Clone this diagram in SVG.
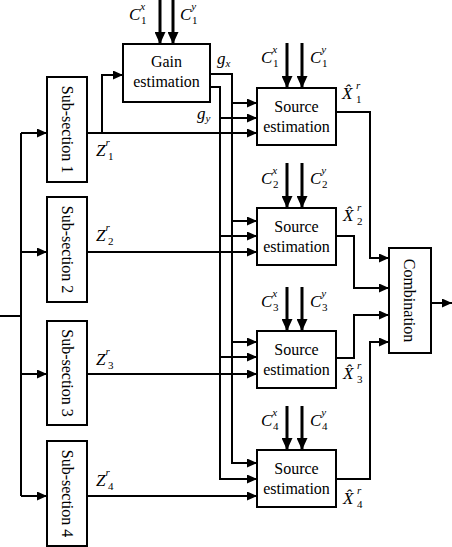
<svg xmlns="http://www.w3.org/2000/svg" width="452" height="547" viewBox="0 0 452 547">
<defs>
<marker id="ah" markerUnits="userSpaceOnUse" markerWidth="11" markerHeight="9" refX="10" refY="4.5" orient="auto"><path d="M0,0 L10,4.5 L0,9 z" fill="#000"/></marker>
<marker id="ch" markerUnits="userSpaceOnUse" markerWidth="12" markerHeight="11" refX="12" refY="5.5" orient="auto"><path d="M0,0 L12,5.5 L0,11 z" fill="#000"/></marker>
</defs>
<style>
.ln{fill:none;stroke:#000;stroke-width:2}
.ar{marker-end:url(#ah)}
.ca{fill:none;stroke:#000;stroke-width:3;marker-end:url(#ch)}
.box{fill:#fff;stroke:#000;stroke-width:2}
.t{font-family:"Liberation Serif","Times New Roman",serif;font-size:16px;text-anchor:middle;fill:#000}
.m{font-family:"Liberation Serif","Times New Roman",serif;font-style:italic;font-size:17px;fill:#000}
.s{font-size:11px}
.d{font-style:normal}
</style>
<rect width="452" height="547" fill="#fff"/>
<g id="connectors">
<path class="ca" d="M160,0 V44"/>
<path class="ca" d="M173,0 V44"/>
<path class="ca" d="M287,43 V88"/>
<path class="ca" d="M302,43 V88"/>
<path class="ca" d="M287,163 V208"/>
<path class="ca" d="M302,163 V208"/>
<path class="ca" d="M287,287 V331"/>
<path class="ca" d="M302,287 V331"/>
<path class="ca" d="M287,406 V450"/>
<path class="ca" d="M302,406 V450"/>
<path class="ln" d="M0,316 H21 M21,133 V496"/>
<path class="ln ar" d="M21,133 H47"/>
<path class="ln ar" d="M21,252 H47"/>
<path class="ln ar" d="M21,374 H47"/>
<path class="ln ar" d="M21,496 H47"/>
<path class="ln ar" d="M102,133 V75 H123"/>
<path class="ln ar" d="M87,133 H257"/>
<path class="ln ar" d="M87,252 H257"/>
<path class="ln ar" d="M87,374 H257"/>
<path class="ln ar" d="M87,496 H257"/>
<path class="ln ar" d="M210,74 H232 V463 H257"/>
<path class="ln ar" d="M210,87 H220 V479 H257"/>
<path class="ln ar" d="M232,103 H257"/>
<path class="ln ar" d="M220,118 H257"/>
<path class="ln ar" d="M232,221 H257"/>
<path class="ln ar" d="M220,236 H257"/>
<path class="ln ar" d="M232,342 H257"/>
<path class="ln ar" d="M220,357 H257"/>
<path class="ln ar" d="M336,112 H370 V258 H389"/>
<path class="ln ar" d="M336,236 H354 V288 H389"/>
<path class="ln ar" d="M336,358 H354 V315 H389"/>
<path class="ln ar" d="M336,479 H370 V342 H389"/>
<path class="ln ar" d="M431,303 H452"/>
</g>
<g id="sub1"><rect class="box" x="47" y="77" width="40" height="105"/><text class="t" transform="translate(62,129.5) rotate(90)">Sub-section 1</text></g>
<g id="sub2"><rect class="box" x="47" y="197" width="40" height="105"/><text class="t" transform="translate(62,249.5) rotate(90)">Sub-section 2</text></g>
<g id="sub3"><rect class="box" x="47" y="321" width="40" height="104"/><text class="t" transform="translate(62,373) rotate(90)">Sub-section 3</text></g>
<g id="sub4"><rect class="box" x="47" y="441" width="40" height="105"/><text class="t" transform="translate(62,493.5) rotate(90)">Sub-section 4</text></g>
<g id="gain"><rect class="box" x="123" y="44" width="87" height="58"/><text class="t" x="166.5" y="67">Gain</text><text class="t" x="166.5" y="87">estimation</text></g>
<g id="source1"><rect class="box" x="257" y="88" width="79" height="57"/><text class="t" x="296.5" y="112">Source</text><text class="t" x="296.5" y="132">estimation</text></g>
<g id="source2"><rect class="box" x="257" y="208" width="79" height="57"/><text class="t" x="296.5" y="232">Source</text><text class="t" x="296.5" y="252">estimation</text></g>
<g id="source3"><rect class="box" x="257" y="331" width="79" height="57"/><text class="t" x="296.5" y="355">Source</text><text class="t" x="296.5" y="375">estimation</text></g>
<g id="source4"><rect class="box" x="257" y="450" width="79" height="57"/><text class="t" x="296.5" y="474">Source</text><text class="t" x="296.5" y="494">estimation</text></g>
<g id="combination"><rect class="box" x="389" y="248" width="42" height="105"/><text class="t" transform="translate(404,300.5) rotate(90)">Combination</text></g>
<g id="labels">
<text class="m" x="129" y="20">C<tspan class="s" dy="-10">x</tspan><tspan class="s d" x="141" dy="14">1</tspan></text>
<text class="m" x="180" y="20">C<tspan class="s" dy="-10">y</tspan><tspan class="s d" x="192" dy="14">1</tspan></text>
<text class="m" x="261" y="63">C<tspan class="s" dy="-10">x</tspan><tspan class="s d" x="273" dy="14">1</tspan></text>
<text class="m" x="310" y="63">C<tspan class="s" dy="-10">y</tspan><tspan class="s d" x="322" dy="14">1</tspan></text>
<text class="m" x="261" y="184">C<tspan class="s" dy="-10">x</tspan><tspan class="s d" x="273" dy="14">2</tspan></text>
<text class="m" x="310" y="184">C<tspan class="s" dy="-10">y</tspan><tspan class="s d" x="322" dy="14">2</tspan></text>
<text class="m" x="261" y="307">C<tspan class="s" dy="-10">x</tspan><tspan class="s d" x="273" dy="14">3</tspan></text>
<text class="m" x="310" y="307">C<tspan class="s" dy="-10">y</tspan><tspan class="s d" x="322" dy="14">3</tspan></text>
<text class="m" x="261" y="426">C<tspan class="s" dy="-10">x</tspan><tspan class="s d" x="273" dy="14">4</tspan></text>
<text class="m" x="310" y="426">C<tspan class="s" dy="-10">y</tspan><tspan class="s d" x="322" dy="14">4</tspan></text>
<text class="m" x="217" y="64">g<tspan class="s" dy="3">x</tspan></text>
<text class="m" x="197" y="119">g<tspan class="s" dy="3">y</tspan></text>
<text class="m" x="96" y="156">Z<tspan class="s" dy="-10">r</tspan><tspan class="s d" x="108" dy="14">1</tspan></text>
<text class="m" x="96" y="241">Z<tspan class="s" dy="-10">r</tspan><tspan class="s d" x="108" dy="14">2</tspan></text>
<text class="m" x="96" y="365">Z<tspan class="s" dy="-10">r</tspan><tspan class="s d" x="108" dy="14">3</tspan></text>
<text class="m" x="96" y="486">Z<tspan class="s" dy="-10">r</tspan><tspan class="s d" x="108" dy="14">4</tspan></text>
<text class="m" x="342" y="99">X̂<tspan class="s" x="356" dy="-10">r</tspan><tspan class="s d" x="356" dy="14">1</tspan></text>
<text class="m" x="343" y="221">X̂<tspan class="s" x="357" dy="-10">r</tspan><tspan class="s d" x="357" dy="14">2</tspan></text>
<text class="m" x="343" y="379">X̂<tspan class="s" x="357" dy="-10">r</tspan><tspan class="s d" x="357" dy="14">3</tspan></text>
<text class="m" x="343" y="504">X̂<tspan class="s" x="357" dy="-10">r</tspan><tspan class="s d" x="357" dy="14">4</tspan></text>
</g>
</svg>
